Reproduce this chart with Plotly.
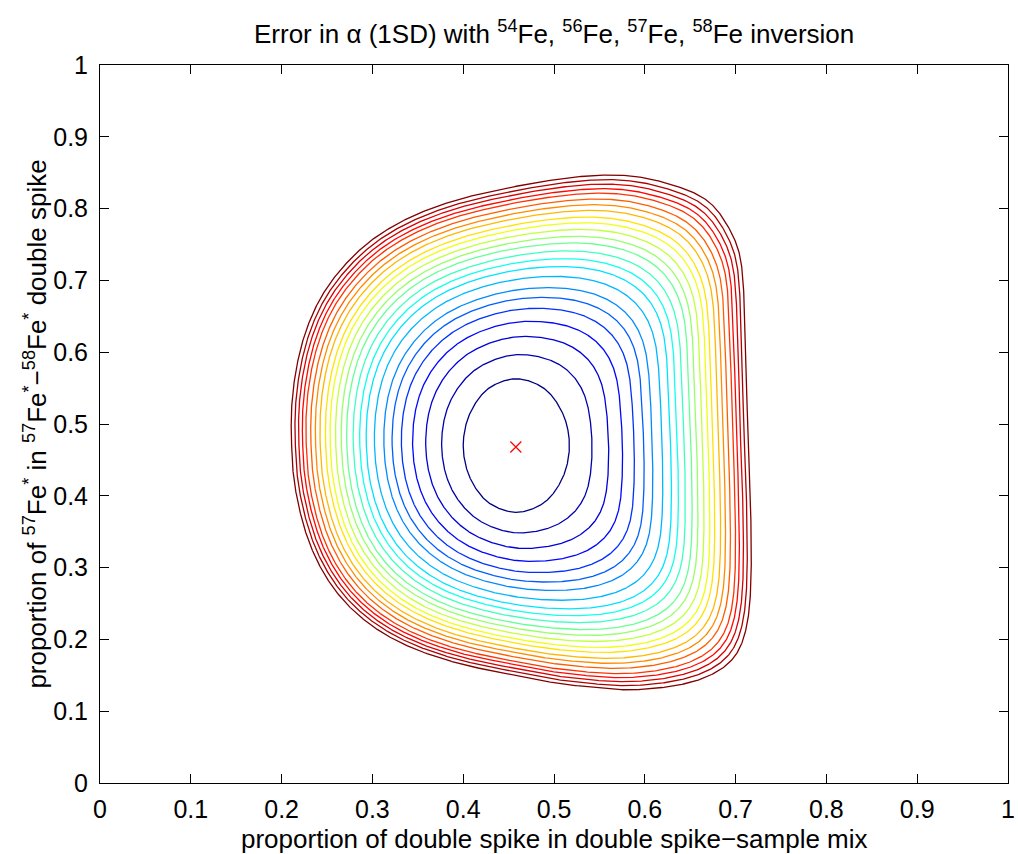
import numpy as np
import plotly.graph_objects as go

# ---- data ----
# optimum (red cross)
opt_x = [0.458]
opt_y = [0.468]

# innermost contour, points around it
inner_x = [0.517, 0.509, 0.488, 0.4585, 0.429, 0.408, 0.400, 0.408, 0.429, 0.4585, 0.488, 0.509]
inner_y = [0.470, 0.5165, 0.5505, 0.563, 0.5505, 0.5165, 0.470, 0.4235, 0.3895, 0.377, 0.3895, 0.4235]

# outermost contour, points around it
outer_x = [0.717, 0.716, 0.713, 0.711, 0.707, 0.703, 0.692, 0.674, 0.656, 0.637, 0.601, 0.557,
           0.500, 0.467, 0.393, 0.340, 0.300, 0.270, 0.245, 0.227, 0.216, 0.211, 0.211, 0.213,
           0.220, 0.232, 0.250, 0.275, 0.310, 0.350, 0.400, 0.450, 0.503, 0.539, 0.576, 0.612,
           0.648, 0.678, 0.700, 0.712, 0.716]
outer_y = [0.310, 0.400, 0.500, 0.600, 0.714, 0.746, 0.774, 0.808, 0.822, 0.830, 0.843, 0.847,
           0.840, 0.833, 0.812, 0.787, 0.757, 0.722, 0.680, 0.630, 0.575, 0.520, 0.480, 0.430,
           0.380, 0.330, 0.285, 0.245, 0.210, 0.185, 0.165, 0.152, 0.139, 0.134, 0.1295, 0.132,
           0.139, 0.153, 0.175, 0.217, 0.262]

# position of each contour level between innermost (0) and outermost (1), read along a ray
level_frac = [0.000, 0.124, 0.216, 0.292, 0.357, 0.411, 0.459, 0.514, 0.562, 0.600, 0.638, 0.676,
              0.708, 0.741, 0.773, 0.800, 0.832, 0.859, 0.886, 0.914, 0.935, 0.957, 0.978, 1.000]

x_ticks = [0, 0.1, 0.2, 0.3, 0.4, 0.5, 0.6, 0.7, 0.8, 0.9, 1]
x_ticktext = ["0", "0.1", "0.2", "0.3", "0.4", "0.5", "0.6", "0.7", "0.8", "0.9", "1"]
y_ticks = x_ticks
y_ticktext = x_ticktext

# ---- build contour curves ----
cx = (max(inner_x) + min(inner_x)) / 2
cy = (max(inner_y) + min(inner_y)) / 2
NTH = 1440
th = np.linspace(-np.pi, np.pi, NTH + 1)[:-1]


def catmull_closed(xs, ys, n=60, alpha=0.5):
    P = np.column_stack([xs, ys]).astype(float)
    m = len(P)
    out = []
    for i in range(m):
        P0, P1, P2, P3 = P[(i - 1) % m], P[i], P[(i + 1) % m], P[(i + 2) % m]
        t0 = 0.0
        t1 = t0 + np.linalg.norm(P1 - P0) ** alpha
        t2 = t1 + np.linalg.norm(P2 - P1) ** alpha
        t3 = t2 + np.linalg.norm(P3 - P2) ** alpha
        t = np.linspace(t1, t2, n, endpoint=False)[:, None]
        A1 = (t1 - t) / (t1 - t0) * P0 + (t - t0) / (t1 - t0) * P1
        A2 = (t2 - t) / (t2 - t1) * P1 + (t - t1) / (t2 - t1) * P2
        A3 = (t3 - t) / (t3 - t2) * P2 + (t - t2) / (t3 - t2) * P3
        B1 = (t2 - t) / (t2 - t0) * A1 + (t - t0) / (t2 - t0) * A2
        B2 = (t3 - t) / (t3 - t1) * A2 + (t - t1) / (t3 - t1) * A3
        C = (t2 - t) / (t2 - t1) * B1 + (t - t1) / (t2 - t1) * B2
        out.append(C)
    C = np.vstack(out)
    return C[:, 0], C[:, 1]


def circ_smooth(r, w):
    w = int(max(1, w)) | 1
    if w <= 1:
        return r.copy()
    out = r.copy()
    for _ in range(3):
        k = np.ones(w) / w
        rp = np.concatenate([out[-w:], out, out[:w]])
        out = np.convolve(rp, k, mode="same")[w:-w]
    return out


def radial(xs, ys):
    sx, sy = catmull_closed(xs, ys)
    ang = np.arctan2(sy - cy, sx - cx)
    rad = np.hypot(sx - cx, sy - cy)
    o = np.argsort(ang)
    return np.interp(th, ang[o], rad[o], period=2 * np.pi)


r_in = circ_smooth(radial(inner_x, inner_y), 5)
r_out_raw = radial(outer_x, outer_y)


def jet(t):
    r = np.clip(min(4 * t - 1.5, -4 * t + 4.5), 0, 1)
    g = np.clip(min(4 * t - 0.5, -4 * t + 3.5), 0, 1)
    b = np.clip(min(4 * t + 0.5, -4 * t + 2.5), 0, 1)
    return "rgb(%d,%d,%d)" % (round(r * 255), round(g * 255), round(b * 255))


fig = go.Figure()
n = len(level_frac)
for i, f in enumerate(level_frac):
    # inner levels follow a smoother version of the outer shape
    r_out = circ_smooth(r_out_raw, 17 + (1 - f) * 70)
    rr = r_in + f * (r_out - r_in)
    xx = cx + rr * np.cos(th)
    yy = cy + rr * np.sin(th)
    xx = np.append(xx, xx[0]); yy = np.append(yy, yy[0])
    fig.add_trace(go.Scatter(x=xx, y=yy, mode="lines",
                             line=dict(color=jet(i / (n - 1)), width=1.3),
                             hoverinfo="skip"))

fig.add_trace(go.Scatter(x=opt_x, y=opt_y, mode="markers",
                         marker=dict(symbol="x-thin", size=11,
                                     line=dict(color="red", width=1.2))))

axis_common = dict(range=[0, 1], showgrid=False, zeroline=False, showline=True,
                   linecolor="black", linewidth=1, mirror="ticks", ticks="inside",
                   ticklen=9, tickcolor="black", tickwidth=1, ticklabeloverflow="allow",
                   tickfont=dict(size=25, color="black"))
fig.update_xaxes(tickvals=x_ticks, ticktext=x_ticktext, ticklabelstandoff=4, **axis_common)
fig.update_yaxes(tickvals=y_ticks, ticktext=y_ticktext, ticklabelstandoff=6, **axis_common)

fig.update_layout(
    width=1018, height=854,
    margin=dict(l=100, r=3, t=65, b=71),
    plot_bgcolor="white", paper_bgcolor="white",
    showlegend=False,
    font=dict(family="Liberation Sans, Arial, sans-serif", size=26, color="black"),
    annotations=[
        dict(text="Error in α (1SD) with <sup>54</sup>Fe, <sup>56</sup>Fe, <sup>57</sup>Fe, <sup>58</sup>Fe inversion",
             xref="paper", yref="paper", x=0.5, y=1.0446, xanchor="center", yanchor="middle",
             showarrow=False, font=dict(size=26)),
        dict(text="proportion of double spike in double spike−sample mix",
             xref="paper", yref="paper", x=0.5, y=-0.078, xanchor="center", yanchor="middle",
             showarrow=False, font=dict(size=26)),
        dict(text="proportion of <sup>57</sup>Fe<sup>*</sup> in <sup>57</sup>Fe<sup>*</sup>−<sup>58</sup>Fe<sup>*</sup> double spike",
             xref="paper", yref="paper", x=-0.072, y=0.5, xanchor="center", yanchor="middle",
             textangle=-90, showarrow=False, font=dict(size=26)),
    ],
)

fig.write_html("out.html", config={"displayModeBar": False},
               post_script="document.body.style.margin='0';document.body.style.overflow='hidden';")
